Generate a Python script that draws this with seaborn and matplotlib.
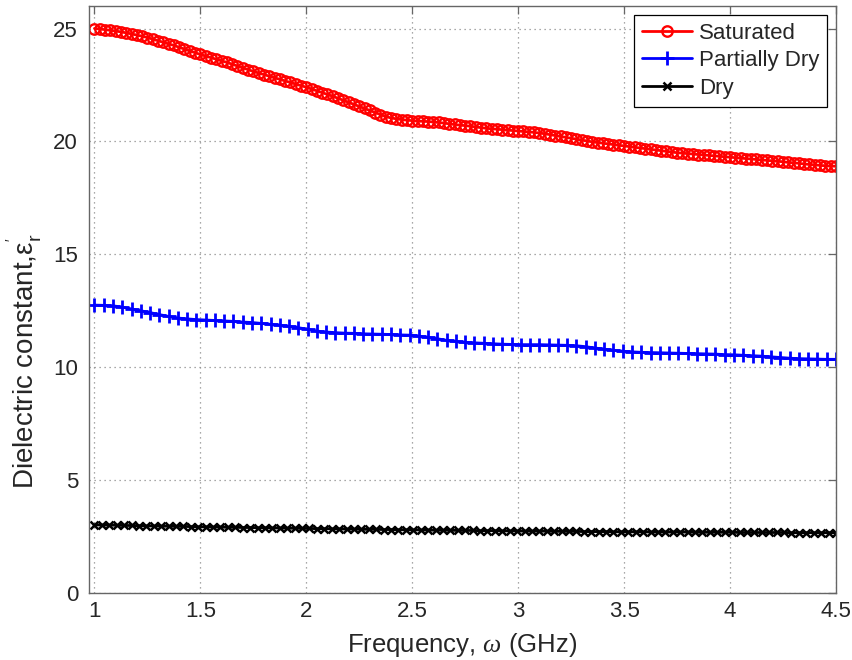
import numpy as np
import matplotlib
matplotlib.use("Agg")
import matplotlib.pyplot as plt
import seaborn as sns

# Frequency grids (GHz) for each sample
freq_sat = np.linspace(1.0, 4.5, 141)
freq_part = np.linspace(1.0, 4.5, 81)
freq_dry = np.linspace(1.0, 4.5, 101)

# Real part of the relative permittivity
eps_saturated = [
    25.00, 24.98, 24.95, 24.92, 24.89,
    24.85, 24.81, 24.76, 24.71, 24.66,
    24.60, 24.53, 24.46, 24.39, 24.32,
    24.25, 24.17, 24.09, 24.01, 23.93,
    23.85, 23.78, 23.71, 23.64, 23.57,
    23.50, 23.42, 23.34, 23.26, 23.18,
    23.10, 23.03, 22.96, 22.89, 22.82,
    22.75, 22.68, 22.61, 22.54, 22.47,
    22.40, 22.32, 22.24, 22.16, 22.08,
    22.00, 21.91, 21.82, 21.73, 21.64,
    21.55, 21.46, 21.37, 21.28, 21.19,
    21.10, 21.04, 21.00, 20.97, 20.94,
    20.92, 20.90, 20.89, 20.88, 20.86,
    20.84, 20.81, 20.78, 20.75, 20.72,
    20.70, 20.67, 20.64, 20.61, 20.58,
    20.56, 20.54, 20.52, 20.50, 20.48,
    20.46, 20.44, 20.42, 20.40, 20.37,
    20.34, 20.30, 20.26, 20.22, 20.18,
    20.14, 20.10, 20.06, 20.02, 19.98,
    19.95, 19.92, 19.89, 19.86, 19.83,
    19.80, 19.77, 19.74, 19.71, 19.68,
    19.65, 19.62, 19.59, 19.56, 19.53,
    19.50, 19.48, 19.46, 19.44, 19.42,
    19.40, 19.38, 19.36, 19.34, 19.32,
    19.30, 19.28, 19.26, 19.24, 19.22,
    19.20, 19.18, 19.16, 19.14, 19.12,
    19.10, 19.07, 19.05, 19.03, 19.00,
    18.98, 18.96, 18.94, 18.92, 18.91,
    18.90,
]

eps_partially_dry = [
    12.75, 12.74, 12.72, 12.66, 12.58, 12.50, 12.42, 12.33, 12.25, 12.18,
    12.14, 12.11, 12.09, 12.07, 12.05, 12.03, 12.00, 11.98, 11.94, 11.90,
    11.86, 11.81, 11.75, 11.68, 11.60, 11.56, 11.53, 11.51, 11.50, 11.48,
    11.47, 11.46, 11.45, 11.43, 11.42, 11.38, 11.32, 11.26, 11.19, 11.14,
    11.10, 11.08, 11.06, 11.04, 11.02, 11.01, 11.00, 11.00, 11.00, 10.99,
    10.98, 10.97, 10.95, 10.91, 10.85, 10.80, 10.75, 10.71, 10.68, 10.66,
    10.65, 10.64, 10.63, 10.62, 10.61, 10.60, 10.59, 10.58, 10.56, 10.55,
    10.53, 10.51, 10.49, 10.46, 10.43, 10.40, 10.38, 10.37, 10.36, 10.35,
    10.35,
]

eps_dry = [
    3.02, 3.01, 3.01, 3.00, 2.99, 2.99, 2.98, 2.97, 2.97, 2.96,
    2.96, 2.95, 2.95, 2.94, 2.93, 2.93, 2.92, 2.92, 2.91, 2.91,
    2.90, 2.90, 2.89, 2.89, 2.88, 2.88, 2.87, 2.87, 2.86, 2.86,
    2.85, 2.85, 2.84, 2.84, 2.83, 2.83, 2.82, 2.82, 2.82, 2.81,
    2.81, 2.80, 2.80, 2.80, 2.79, 2.79, 2.78, 2.78, 2.78, 2.77,
    2.77, 2.77, 2.76, 2.76, 2.76, 2.75, 2.75, 2.75, 2.74, 2.74,
    2.74, 2.74, 2.73, 2.73, 2.73, 2.73, 2.72, 2.72, 2.72, 2.72,
    2.71, 2.71, 2.71, 2.71, 2.71, 2.70, 2.70, 2.70, 2.70, 2.70,
    2.70, 2.69, 2.69, 2.69, 2.69, 2.69, 2.69, 2.68, 2.68, 2.68,
    2.68, 2.68, 2.68, 2.68, 2.67, 2.67, 2.67, 2.67, 2.67, 2.67,
    2.67,
]

x_ticks = [1, 1.5, 2, 2.5, 3, 3.5, 4, 4.5]
x_tick_labels = ["1", "1.5", "2", "2.5", "3", "3.5", "4", "4.5"]
y_ticks = [0, 5, 10, 15, 20, 25]

sns.set_style("white")
plt.rcParams["font.family"] = ["Liberation Sans", "DejaVu Sans"]
plt.rcParams["mathtext.fontset"] = "custom"
plt.rcParams["mathtext.rm"] = "Liberation Sans"
plt.rcParams["mathtext.it"] = "Liberation Serif:italic"

fig = plt.figure(figsize=(8.53, 6.60), dpi=100)
ax = fig.add_axes([0.1045, 0.1015, 0.8755, 0.8895])

sns.lineplot(x=freq_sat, y=eps_saturated, ax=ax, color="#ff0000", lw=2.0,
             marker="o", markersize=7.5, markerfacecolor="none",
             markeredgecolor="#ff0000", markeredgewidth=1.7,
             label="Saturated", sort=False, estimator=None)
sns.lineplot(x=freq_part, y=eps_partially_dry, ax=ax, color="#0000ff", lw=2.0,
             marker="+", markersize=10, markeredgewidth=2.0,
             markeredgecolor="#0000ff",
             label="Partially Dry", sort=False, estimator=None)
sns.lineplot(x=freq_dry, y=eps_dry, ax=ax, color="black", lw=2.0,
             marker="x", markersize=5.5, markeredgewidth=1.8,
             markeredgecolor="black",
             label="Dry", sort=False, estimator=None)

ax.set_xlim(0.975, 4.5)
ax.set_ylim(0, 26)
ax.set_xticks(x_ticks)
ax.set_yticks(y_ticks)

ax.set_xticklabels(x_tick_labels, fontsize=16)
ax.set_yticklabels([str(v) for v in y_ticks], fontsize=16)

ax.grid(True, linestyle=(0, (1, 3)), color="#8c8c8c", linewidth=0.9)
ax.tick_params(axis="both", direction="in", length=6, width=0.9,
               top=True, right=True, color="#666666", pad=6)
ax.tick_params(axis="y", pad=8)
for sp in ax.spines.values():
    sp.set_color("#666666")
    sp.set_linewidth(1.0)

ax.set_xlabel(r"Frequency, $\omega$ (GHz)", fontsize=18.5, labelpad=6)
ax.set_ylabel("Dielectric constant,ε" + r"$\mathregular{_r^{'}}$",
              fontsize=20)
ax.yaxis.set_label_coords(-0.059, 0.395)

leg = ax.legend(loc="upper right", fontsize=16, frameon=True, fancybox=False,
                framealpha=1, edgecolor="black", borderpad=0.35,
                handlelength=2.25, handletextpad=0.3, labelspacing=0.3,
                borderaxespad=0.4)
leg.get_frame().set_linewidth(0.9)

fig.savefig("out.png", dpi=100)
